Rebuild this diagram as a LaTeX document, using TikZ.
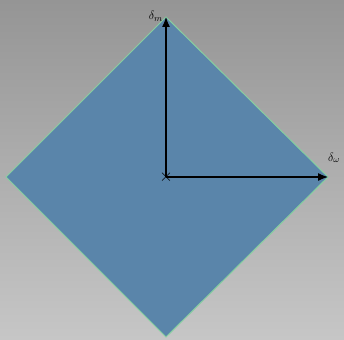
\documentclass[tikz,border=0pt]{standalone}
\usetikzlibrary{arrows.meta}
\definecolor{bgtop}{HTML}{959595}
\definecolor{bgbot}{HTML}{C6C6C6}
\definecolor{dfill}{HTML}{5A85AA}
\definecolor{dedge}{HTML}{86CFA0}
\tikzset{
  axis/.style={draw=black, line width=1.2pt, -{Latex[length=10pt,width=8pt]}},
  lbl/.style={inner sep=0pt, font=\fontsize{13}{15}\selectfont},
}
\begin{document}
\begin{tikzpicture}[x=1pt,y=-1pt]
\useasboundingbox (0,0) rectangle (344,339);
\shade[top color=bgtop, bottom color=bgbot] (0,0) rectangle (344,339);
\coordinate (L) at (6,177);
\coordinate (T) at (166,17);
\coordinate (R) at (328,177);
\coordinate (B) at (166,337);
\coordinate (O) at (166,177);
\draw[fill=dfill, draw=dedge, line width=1pt] (L) -- (T) -- (R) -- (B) -- cycle;
\draw[axis] (O) -- (T);
\draw[axis] (O) -- (R);
\node[lbl, font=\fontsize{18}{20}\selectfont] (X) at (O) {$\times$};
\node[lbl, anchor=south east] (lm) at (163,22) {$\delta_m$};
\node[lbl, anchor=south] (lw) at (334,163) {$\delta_\omega$};
\end{tikzpicture}
\end{document}
